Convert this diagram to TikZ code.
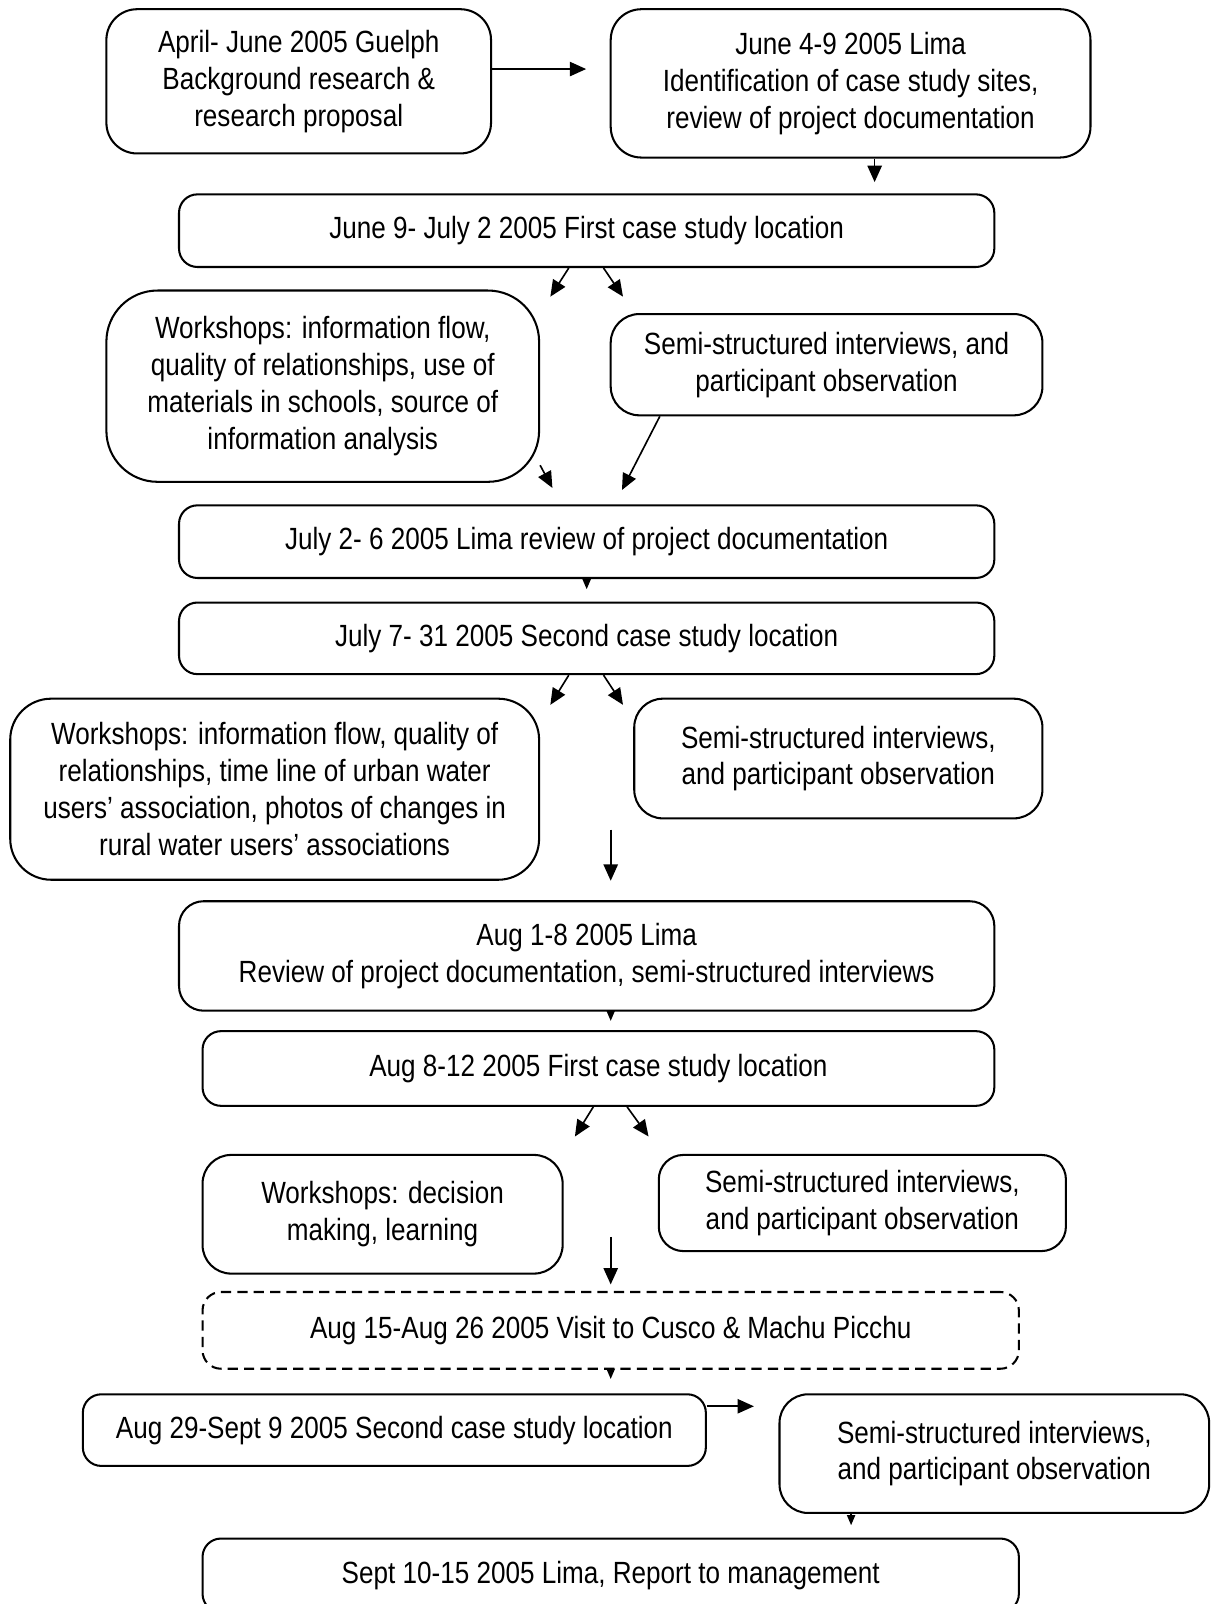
\documentclass[tikz,border=0pt]{standalone}
\usepackage{fontspec}
\setmainfont[FakeStretch=0.85]{Liberation Sans}
\usetikzlibrary{arrows.meta}
\tikzset{
  base/.style={draw, line width=1pt, inner sep=0pt, align=center,
    font=\fontsize{15}{18}\selectfont},
  bx/.style n args={3}{base, minimum width=#1*0.5pt, minimum height=#2*0.5pt,
    rounded corners=#3*0.5pt},
  dbx/.style={dash pattern=on 5pt off 3pt},
  arr/.style={line width=0.8pt, -{Triangle[length=8pt,width=7pt]}},
  tipa/.style={line width=0.8pt, -{Triangle[length=5pt,width=4pt]}}
}
\begin{document}
\begin{tikzpicture}[x=0.5pt,y=-0.5pt]
\useasboundingbox (0,0) rectangle (1183,1568);
\clip (0,0) rectangle (1183,1568);
\fill[white] (0,0) rectangle (1183,1568);

\node[bx={376}{141}{30}] (A) at (292,79.5) {April- June 2005 Guelph\\Background research \&\\research proposal};
\node[bx={469}{145}{30}] (B) at (831.5,81.5) {June 4-9 2005 Lima\\Identification of case study sites,\\review of project documentation};
\node[bx={797}{71}{18}] (C) at (573.5,225.5) {June 9- July 2 2005 First case study location};
\node[bx={423}{187}{50}] (D) at (315.5,377.5) {Workshops: information flow,\\quality of relationships, use of\\materials in schools, source of\\information analysis};
\node[bx={422}{99}{28}] (E) at (808,356.5) {Semi-structured interviews, and\\participant observation};
\node[bx={797}{71}{18}] (F) at (573.5,529.5) {July 2- 6 2005 Lima review of project documentation};
\node[bx={797}{70}{18}] (G) at (573.5,624) {July 7- 31 2005 Second case study location};
\node[bx={517}{177}{40}] (H) at (268.5,771.5) {Workshops: information flow, quality of\\relationships, time line of urban water\\users’ association, photos of changes in\\rural water users’ associations};
\node[bx={399}{117}{28}] (I) at (819.5,741.5) {Semi-structured interviews,\\and participant observation};
\node[bx={797}{107}{24}] (J) at (573.5,934.5) {Aug 1-8 2005 Lima\\Review of project documentation, semi-structured interviews};
\node[bx={774}{73}{18}] (K) at (585,1044.5) {Aug 8-12 2005 First case study location};
\node[bx={352}{116}{28}] (L) at (374,1187) {Workshops: decision\\making, learning};
\node[bx={398}{94}{24}] (M) at (843,1176) {Semi-structured interviews,\\and participant observation};
\node[bx={798}{75}{18}, dbx] (N) at (597,1300.5) {Aug 15-Aug 26 2005 Visit to Cusco \& Machu Picchu};
\node[bx={609}{70}{18}] (O) at (385.5,1398) {Aug 29-Sept 9 2005 Second case study location};
\node[bx={420}{116}{28}] (P) at (972,1421) {Semi-structured interviews,\\and participant observation};
\node[bx={798}{72}{18}] (Q) at (597,1540) {Sept 10-15 2005 Lima, Report to management};

\coordinate (ab) at (573,67.5);
\coordinate (bc) at (855,178);
\coordinate (cd) at (538,290);
\coordinate (ce) at (609,290);
\coordinate (df) at (540,477);
\coordinate (ef) at (608,479);
\coordinate (fg) at (573.5,576);
\coordinate (gh) at (538,689);
\coordinate (gi) at (609,689);
\coordinate (v1) at (597,811);
\coordinate (jk) at (597,998);
\coordinate (kl) at (562,1111);
\coordinate (km) at (634,1111);
\coordinate (v2) at (597,1209);
\coordinate (no) at (597,1348);
\coordinate (op) at (737,1374.7);
\coordinate (pq) at (832,1491);

\draw[arr] (A.east |- ab) -- (ab);
\draw[arr] (B.south -| bc) -- (bc);
\draw[arr] ([xshift=-8.75pt]C.south) -- (cd);
\draw[arr] ([xshift=8.25pt]C.south) -- (ce);
\draw[arr] (D.-20) -- (df);
\draw[arr] ([xshift=-81.5pt]E.south) -- (ef);
\draw[tipa] (F.south) -- (fg);
\draw[arr] ([xshift=-8.75pt]G.south) -- (gh);
\draw[arr] ([xshift=8.25pt]G.south) -- (gi);
\draw[arr, shorten >=9.5pt] (v1) -- (J.north -| v1);
\draw[tipa] (J.south -| jk) -- (jk);
\draw[arr] ([xshift=-2.5pt]K.south) -- (kl);
\draw[arr] ([xshift=14pt]K.south) -- (km);
\draw[arr, shorten >=3.2pt] (v2) -- (N.north -| v2);
\draw[tipa] (N.south) -- (no);
\draw[arr] (O.east |- op) -- (op);
\draw[tipa] (P.south -| pq) -- (pq);
\end{tikzpicture}
\end{document}
